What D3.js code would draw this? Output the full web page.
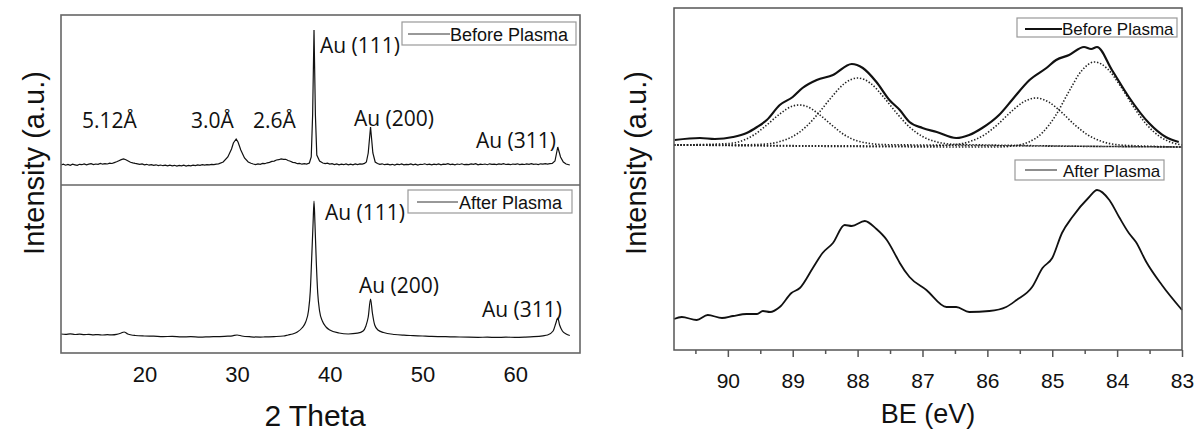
<!DOCTYPE html>
<html>
<head>
<meta charset="utf-8">
<script src="https://cdn.jsdelivr.net/npm/d3@7/dist/d3.min.js"></script>
<style>
  html, body { margin: 0; padding: 0; background: #fff; }
  svg { display: block; }
  .axlab { font-family: "Liberation Sans", Arial, sans-serif; fill: #111; }
  .ann { font-family: "Open Sans", "Noto Sans", sans-serif; fill: #111; }
  .leg { font-family: "Liberation Sans", Arial, sans-serif; fill: #111; }
</style>
</head>
<body>
<svg id="chart" width="1197" height="432"></svg>
<script>
// ---------------- DATA ----------------
// XRD before plasma: [2 Theta (deg), intensity (a.u.)]
const xrdBefore = [
  [11.0,20.0],[11.25,20.9],[11.5,19.8],[11.75,20.6],[12.0,19.7],[12.25,20.8],[12.5,20.2],[12.75,19.6],
  [13.0,20.7],[13.25,20.3],[13.5,21.1],[13.75,20.2],[14.0,20.8],[14.25,21.3],[14.5,20.4],[14.75,21.0],
  [15.0,20.6],[15.25,21.5],[15.5,20.8],[15.75,21.4],[16.0,21.0],[16.25,21.9],[16.5,21.5],[16.75,22.4],
  [17.0,23.2],[17.25,24.3],[17.5,25.4],[17.75,26.0],[18.0,25.2],[18.25,24.0],[18.5,22.8],[18.75,22.1],
  [19.0,21.6],[19.25,21.2],[19.5,20.6],[19.75,21.1],[20.0,20.1],[20.25,20.7],[20.5,19.8],[20.75,20.4],
  [21.0,19.6],[21.25,20.2],[21.5,19.4],[21.75,20.0],[22.0,19.3],[22.25,19.9],[22.5,19.1],[22.75,19.8],
  [23.0,19.2],[23.25,19.7],[23.5,18.9],[23.75,19.6],[24.0,19.1],[24.25,19.8],[24.5,19.0],[24.75,19.6],
  [25.0,19.2],[25.25,19.9],[25.5,19.4],[25.75,20.1],[26.0,19.6],[26.25,20.3],[26.5,19.8],[26.75,20.4],
  [27.0,20.1],[27.25,20.6],[27.5,20.3],[27.75,20.9],[28.0,21.2],[28.5,23.0],[29.0,28.0],[29.4,36.0],
  [29.6,42.0],[29.9,46.0],[30.1,43.0],[30.4,35.0],[30.8,27.0],[31.2,23.0],[31.5,21.8],[31.75,21.0],
  [32.0,20.4],[32.25,21.1],[32.5,20.7],[32.75,21.6],[33.0,21.3],[33.25,22.2],[33.5,22.6],[33.75,23.6],
  [34.0,23.9],[34.25,25.0],[34.5,25.3],[34.75,26.1],[35.0,25.6],[35.25,25.7],[35.5,24.5],[35.75,23.8],
  [36.0,22.6],[36.25,22.3],[36.5,21.3],[36.75,21.6],[37.0,20.8],[37.25,21.4],[37.5,20.9],[37.8,22.0],
  [38.0,28.0],[38.15,70.0],[38.3,155.0],[38.45,70.0],[38.6,30.0],[38.9,24.0],[39.25,22.0],[39.5,21.4],
  [39.75,21.9],[40.0,20.9],[40.25,21.4],[40.5,20.5],[40.75,21.1],[41.0,20.2],[41.25,20.9],[41.5,20.3],
  [41.75,21.0],[42.0,20.1],[42.25,20.8],[42.5,20.2],[42.75,21.0],[43.0,20.4],[43.25,21.1],[43.5,20.9],
  [43.75,21.6],[43.95,23.0],[44.15,32.0],[44.4,58.0],[44.65,32.0],[44.9,23.0],[45.15,21.5],[45.4,20.6],
  [45.65,21.2],[45.9,20.3],[46.25,20.9],[46.5,20.2],[46.75,20.7],[47.0,20.0],[47.25,20.8],[47.5,20.3],
  [47.75,21.0],[48.0,20.1],[48.25,20.6],[48.5,20.4],[48.75,21.1],[49.0,20.2],[49.25,20.8],[49.5,20.0],
  [49.75,20.7],[50.0,20.5],[50.25,21.2],[50.5,20.3],[50.75,20.9],[51.0,20.1],[51.25,20.8],[51.5,20.4],
  [51.75,21.0],[52.0,20.2],[52.25,20.9],[52.5,20.6],[52.75,21.3],[53.0,20.4],[53.25,20.8],[53.5,20.2],
  [53.75,21.0],[54.0,20.5],[54.25,21.2],[54.5,20.3],[54.75,20.7],[55.0,20.4],[55.25,21.1],[55.5,20.6],
  [55.75,21.3],[56.0,20.2],[56.25,20.9],[56.5,20.5],[56.75,21.0],[57.0,20.3],[57.25,21.2],[57.5,20.6],
  [57.75,20.8],[58.0,20.4],[58.25,21.1],[58.5,20.7],[58.75,21.3],[59.0,20.5],[59.25,20.9],[59.5,20.3],
  [59.75,21.0],[60.0,20.6],[60.25,21.2],[60.5,20.4],[60.75,20.8],[61.0,20.5],[61.25,21.1],[61.5,20.7],
  [61.75,21.3],[62.0,20.6],[62.25,21.0],[62.5,20.4],[62.75,21.2],[63.0,20.8],[63.25,21.4],[63.5,20.9],
  [63.75,21.3],[64.0,21.6],[64.3,24.0],[64.6,38.0],[64.9,28.0],[65.2,23.0],[65.5,21.0],[65.9,20.0]
];

// XRD after plasma
const xrdAfter2Theta = [11.0,11.5,12.0,12.5,13.0,13.5,14.0,14.5,15.0,15.5,16.0,16.5,17.0,17.5,17.8,18.2,18.6,19.0,20.0,21.0,22.0,23.0,24.0,25.0,26.0,27.0,28.0,29.0,29.5,30.0,30.5,31.5,32.5,33.0,34.0,35.0,35.5,36.0,36.5,37.0,37.4,37.7,37.9,38.05,38.2,38.3,38.4,38.55,38.7,38.9,39.2,39.6,40.0,41.0,42.0,43.0,43.6,43.9,44.15,44.4,44.6,44.85,45.2,45.8,47.0,48.0,49.0,50.0,51.0,52.0,53.0,54.0,55.0,56.0,57.0,58.0,59.0,60.0,61.0,62.0,63.0,63.5,64.1,64.4,64.6,64.8,65.1,65.5,65.9];
const xrdAfterI = [19.0,18.6,19.1,18.5,18.9,18.4,18.6,18.2,18.4,18.0,18.3,18.1,18.6,20.0,21.0,19.0,18.0,17.5,17.0,16.8,16.4,16.6,16.1,16.3,15.9,16.2,16.4,16.8,17.2,18.0,17.0,16.2,15.9,16.1,16.4,17.0,18.0,19.0,21.0,25.0,31.0,42.0,62.0,95.0,130.0,152.0,130.0,90.0,60.0,42.0,32.0,26.0,23.0,20.0,19.0,19.8,22.0,27.0,36.0,54.0,40.0,28.0,23.0,20.5,18.5,17.8,17.4,17.0,16.6,16.4,16.2,16.0,15.8,15.7,15.8,15.6,15.8,15.7,15.9,16.3,17.2,18.0,22.0,30.0,35.0,28.0,22.0,19.0,17.5];

const xrdTicks = [20, 30, 40, 50, 60];

// XPS Au 4f, binding energy (eV) and intensity (a.u.)
const xpsBeforeBE = [90.82,90.43,90.2,89.92,89.71,89.55,89.4,89.2,89.0,88.85,88.63,88.38,88.09,87.92,87.71,87.51,87.35,87.2,87.0,86.78,86.48,86.28,86.08,85.82,85.62,85.35,85.09,84.94,84.74,84.51,84.4,84.31,84.08,83.82,83.51,83.25,83.05];
const xpsBeforeI  = [210,212,211,213,217,223,230,245,253,262,270,275,286,282,268,250,240,228,222,218,212,215,222,235,250,270,282,290,295,303,301,303,280,253,227,213,208];

const xpsAfterBE = [90.83,90.71,90.48,90.31,90.09,89.92,89.71,89.55,89.46,89.35,89.2,89.02,88.89,88.69,88.54,88.38,88.2,88.09,87.89,87.71,87.55,87.4,87.35,87.2,86.94,86.63,86.48,86.28,85.97,85.71,85.55,85.31,85.15,85.0,84.85,84.69,84.43,84.31,84.12,83.97,83.82,83.71,83.55,83.31,83.0];
const xpsAfterI  = [31,33,30,35,32,34,36,36,39,38,43,57,62,82,97,107,125,124,129,121,110,93,87,73,60,43,43,38,39,43,50,63,82,92,117,133,153,160,150,133,117,108,88,65,40];

// fitted components (dotted)
const fit1BE = [90.83,90.0,89.6,89.4,89.2,89.0,88.9,88.8,88.6,88.4,88.2,88.0,87.6,87.0,83.0];
const fit1I  = [205,206.4,215,225,236,244,245,244,236,225,215,209,205.4,205,203];
const fit2BE = [90.83,90.0,89.5,89.2,89.0,88.8,88.6,88.4,88.2,88.0,87.8,87.6,87.4,87.2,87.0,86.8,86.5,86.0,83.0];
const fit2I  = [205,205,205.6,208.4,213.5,223,237,253,266.7,272,266.7,253,237,223,213.5,208.4,205.6,205,203];
const fit3BE = [90.83,87.0,86.85,86.55,86.25,86.05,85.85,85.65,85.45,85.25,85.05,84.85,84.65,84.45,84.25,83.95,83.65,83.0];
const fit3I  = [205,204,204.1,205,208.9,215,225,237.3,247.8,252,247.8,237.3,225,215,208.9,205,204.1,203];
const fit4BE = [90.83,86.0,85.85,85.55,85.35,85.15,84.95,84.75,84.55,84.35,84.15,83.95,83.75,83.55,83.35,83.15,83.0];
const fit4I  = [205,203,203,204.6,208.3,217.4,234.3,257.6,279,288,281.3,264,243.5,225.8,213.8,207.3,205];

const xpsMajorTicks = [90, 89, 88, 87, 86, 85, 84, 83];
const xpsMinorTicks = [90.5, 89.5, 88.5, 87.5, 86.5, 85.5, 84.5, 83.5];

// ---------------- DRAW ----------------
const svg = d3.select("#chart");
const zip = (xs, ys) => xs.map((x, i) => [x, ys[i]]);

// ===== Left panel (XRD) =====
const L = { x0: 61, x1: 580, top: 15, mid: 185, bot: 353 };
const xX = d3.scaleLinear().domain([11, 67]).range([L.x0, L.x1]);
const yTop = d3.scaleLinear().domain([0, 170]).range([L.mid, L.top]);
const yBot = d3.scaleLinear().domain([0, 168]).range([L.bot, L.mid]);

const lineTop = d3.line().x(d => xX(d[0])).y(d => yTop(d[1]));
const lineBot = d3.line().x(d => xX(d[0])).y(d => yBot(d[1])).curve(d3.curveMonotoneX);

svg.append("path").datum(xrdBefore)
  .attr("d", lineTop).attr("fill", "none").attr("stroke", "#111").attr("stroke-width", 1.2);
svg.append("path").datum(zip(xrdAfter2Theta, xrdAfterI))
  .attr("d", lineBot).attr("fill", "none").attr("stroke", "#111").attr("stroke-width", 1.2);

// frame
svg.append("rect").attr("x", L.x0).attr("y", L.top).attr("width", L.x1 - L.x0).attr("height", L.bot - L.top)
  .attr("fill", "none").attr("stroke", "#666").attr("stroke-width", 1.6);
svg.append("line").attr("x1", L.x0).attr("x2", L.x1).attr("y1", L.mid).attr("y2", L.mid)
  .attr("stroke", "#666").attr("stroke-width", 1.6);

const axL = svg.append("g").attr("transform", `translate(0,${L.bot})`)
  .call(d3.axisBottom(xX).tickValues(xrdTicks).tickSize(0).tickPadding(13).tickFormat(d3.format("d")));
axL.select(".domain").remove();
axL.selectAll("text").style("font-size", "22px")
  .style("font-family", "'Liberation Sans', Arial, sans-serif").attr("fill", "#111");

svg.append("text").attr("class", "axlab").attr("x", 315).attr("y", 426)
  .attr("text-anchor", "middle").style("font-size", "30px").text("2 Theta");
svg.append("text").attr("class", "axlab")
  .attr("transform", "translate(44,163) rotate(-90)")
  .attr("text-anchor", "middle").style("font-size", "29px").text("Intensity (a.u.)");

// annotations
const annL = [
  { t: "5.12Å", x: 82, y: 128 }, { t: "3.0Å", x: 191, y: 128 }, { t: "2.6Å", x: 253, y: 128 },
  { t: "Au (111)", x: 320, y: 53 }, { t: "Au (200)", x: 354, y: 126 }, { t: "Au (311)", x: 476, y: 148 },
  { t: "Au (111)", x: 325, y: 220 }, { t: "Au (200)", x: 359, y: 293 }, { t: "Au (311)", x: 482, y: 317 }
];
svg.selectAll("text.annL").data(annL).enter().append("text")
  .attr("class", "ann annL").attr("x", d => d.x).attr("y", d => d.y)
  .style("font-size", "21px").text(d => d.t);

// legends
function legend(bx, by, bw, bh, lx0, lx1, ly, tx, ty, label, fs, lw, lc) {
  svg.append("rect").attr("x", bx).attr("y", by).attr("width", bw).attr("height", bh)
    .attr("fill", "#fff").attr("stroke", "#999").attr("stroke-width", 1.2);
  svg.append("line").attr("x1", lx0).attr("x2", lx1).attr("y1", ly).attr("y2", ly)
    .attr("stroke", lc).attr("stroke-width", lw);
  svg.append("text").attr("class", "leg").attr("x", tx).attr("y", ty)
    .style("font-size", fs + "px").text(label);
}
legend(402, 22, 174, 23, 408, 450, 34, 450, 41, "Before Plasma", 18, 1, "#333");
legend(408, 190, 164, 23, 417, 458, 202, 459, 209, "After Plasma", 18, 1, "#333");

// ===== Right panel (XPS) =====
const R = { x0: 674, x1: 1182, top: 8, bot: 350 };
const xR = d3.scaleLinear().domain([90.83, 83]).range([R.x0, R.x1]);
const yR = d3.scaleLinear().domain([0, 342]).range([R.bot, R.top]);
const lineR = d3.line().x(d => xR(d[0])).y(d => yR(d[1])).curve(d3.curveMonotoneX);

[[fit1BE, fit1I], [fit2BE, fit2I], [fit3BE, fit3I], [fit4BE, fit4I]].forEach(([bx, by]) => {
  svg.append("path").datum(zip(bx, by)).attr("d", lineR).attr("fill", "none")
    .attr("stroke", "#222").attr("stroke-width", 1.6).attr("stroke-dasharray", "1.4,1.8");
});
svg.append("path").datum(zip(xpsBeforeBE, xpsBeforeI)).attr("d", lineR)
  .attr("fill", "none").attr("stroke", "#111").attr("stroke-width", 2.2).attr("stroke-linejoin", "round");
svg.append("path").datum(zip(xpsAfterBE, xpsAfterI)).attr("d", lineR)
  .attr("fill", "none").attr("stroke", "#111").attr("stroke-width", 1.8).attr("stroke-linejoin", "round");

svg.append("rect").attr("x", R.x0).attr("y", R.top).attr("width", R.x1 - R.x0).attr("height", R.bot - R.top)
  .attr("fill", "none").attr("stroke", "#555").attr("stroke-width", 1.5);

const axR = svg.append("g").attr("transform", `translate(0,${R.bot})`)
  .call(d3.axisBottom(xR).tickValues(xpsMajorTicks).tickSize(7).tickSizeOuter(0).tickPadding(16).tickFormat(d3.format("d")));
axR.select(".domain").remove();
axR.selectAll("line").attr("stroke", "#555").attr("stroke-width", 1.5);
axR.selectAll("text").style("font-size", "21px")
  .style("font-family", "'Liberation Sans', Arial, sans-serif").attr("fill", "#111");
const axRm = svg.append("g").attr("transform", `translate(0,${R.bot})`)
  .call(d3.axisBottom(xR).tickValues(xpsMinorTicks).tickSize(4).tickSizeOuter(0).tickFormat(""));
axRm.select(".domain").remove();
axRm.selectAll("line").attr("stroke", "#555").attr("stroke-width", 1.5);

svg.append("text").attr("class", "axlab").attr("x", 928).attr("y", 423)
  .attr("text-anchor", "middle").style("font-size", "27px").text("BE (eV)");
svg.append("text").attr("class", "axlab")
  .attr("transform", "translate(646,163) rotate(-90)")
  .attr("text-anchor", "middle").style("font-size", "29px").text("Intensity (a.u.)");

legend(1017, 18, 160, 19, 1025, 1062, 29, 1062, 35, "Before Plasma", 17, 2, "#111");
legend(1015, 160, 149, 20, 1025, 1057, 170, 1063, 177, "After Plasma", 17, 1.2, "#444");
</script>
</body>
</html>
